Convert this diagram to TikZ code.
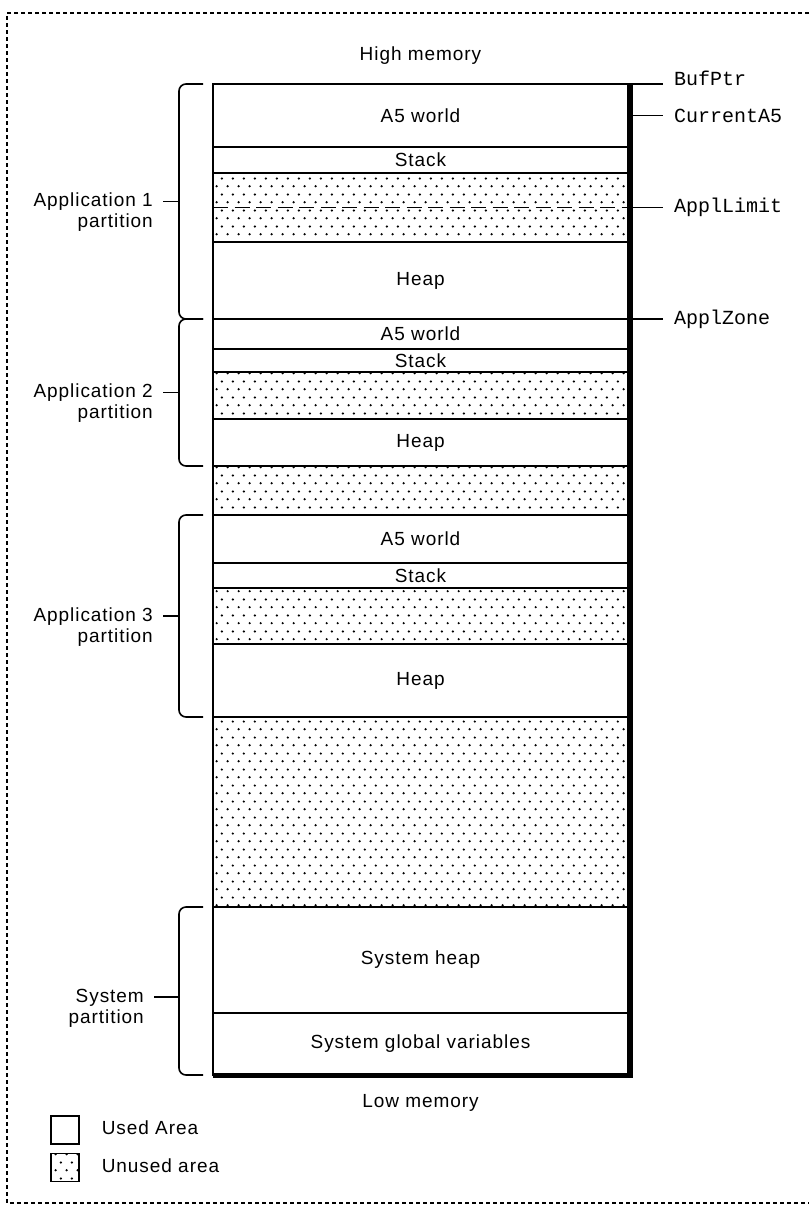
\documentclass[tikz,border=0pt]{standalone}
\usepackage{fontspec}
\setmainfont{Liberation Sans}[LetterSpace=5]
\setmonofont{Liberation Mono}
\usepackage{tikz}
\usetikzlibrary{positioning,patterns,calc}
% staggered dot grid for unused memory
\pgfdeclarepatternformonly{memdots}{\pgfpointorigin}{\pgfpoint{10.7pt}{15.6pt}}{\pgfpoint{10.7pt}{15.6pt}}{%
  \pgfpathcircle{\pgfpoint{2.7pt}{3.9pt}}{1.25pt}%
  \pgfpathcircle{\pgfpoint{8.05pt}{11.7pt}}{1.25pt}%
  \pgfusepath{fill}}

\begin{document}
\begin{tikzpicture}[x=1pt,y=-1pt,font=\fontsize{19}{23}\selectfont,
  seg/.style={draw,line width=1.6pt,minimum width=415pt,inner sep=0pt,outer sep=0pt,anchor=north},
  free/.style={seg,pattern=memdots},
  brc/.style={line width=1.6pt,rounded corners=7pt},
  tick/.style={line width=1.6pt},
  limitline/.style={line width=1.8pt,dash pattern=on 15pt off 6.5pt},
  plabel/.style={text height=14pt,text depth=4pt,inner xsep=10pt,inner ysep=1.5pt},
  reglabel/.style={font=\ttfamily\fontsize{20}{24}\selectfont,inner xsep=11pt},
  keybox/.style={draw,line width=1.6pt,minimum size=28pt,inner sep=0pt},
  frame/.style={line width=1.5pt,dash pattern=on 4pt off 3pt}]
  \useasboundingbox (0,0) rectangle (809,1205);
  \draw[frame] (809,13) -- (7,13) -- (7,1203) -- (809,1203);
  % memory map, top to bottom
  \node[seg,minimum height=63pt] (a5one) at (420.5,84) {A5 world};
  \node[seg,minimum height=26pt,below=0pt of a5one] (stackone) {Stack};
  \node[free,minimum height=69pt,below=0pt of stackone] (freeone) {};
  \node[seg,minimum height=77pt,below=0pt of freeone] (heapone) {Heap};
  \node[seg,minimum height=30pt,below=0pt of heapone] (a5two) {A5 world};
  \node[seg,minimum height=23pt,below=0pt of a5two] (stacktwo) {Stack};
  \node[free,minimum height=47pt,below=0pt of stacktwo] (freetwo) {};
  \node[seg,minimum height=47pt,below=0pt of freetwo] (heaptwo) {Heap};
  \node[free,minimum height=49pt,below=0pt of heaptwo] (gapone) {};
  \node[seg,minimum height=48pt,below=0pt of gapone] (a5three) {A5 world};
  \node[seg,minimum height=25pt,below=0pt of a5three] (stackthree) {Stack};
  \node[free,minimum height=56pt,below=0pt of stackthree] (freethree) {};
  \node[seg,minimum height=73pt,below=0pt of freethree] (heapthree) {Heap};
  \node[free,minimum height=190pt,below=0pt of heapthree] (gaptwo) {};
  \node[seg,minimum height=106pt,below=0pt of gaptwo] (sysheap) {System heap};
  \node[seg,minimum height=62pt,below=0pt of sysheap] (sysglobals) {System global variables};
  \draw[limitline] (freeone.west) -- (freeone.east);
  \draw[line width=5pt] ([xshift=2pt]a5one.north east) -- ([xshift=2pt]sysglobals.south east) -- (sysglobals.south west);
  \node[plabel,above=18pt of a5one] (highmem) {High memory};
  \node[plabel,below=17pt of sysglobals] (lowmem) {Low memory};
  % low-memory globals on the right
  \foreach \anc/\nm/\txt/\sh in {a5one.north east/bufptr/BufPtr/6,a5one.east/curafive/CurrentA5/0,
      freeone.east/appllimit/ApplLimit/0,heapone.south east/applzone/ApplZone/0} {
    \node[reglabel,right=35pt of \anc,yshift=\sh pt] (\nm) {\txt};
    \draw[tick] (\anc) -- (\anc -| \nm.west);
  }
  % partition braces
  \coordinate (bone) at ($(a5one.north west)!0.5!(heapone.south west)+(-34,0)$);
  \coordinate (btwo) at ($(a5two.north west)!0.5!(heaptwo.south west)+(-34,0)$);
  \coordinate (bthree) at ($(a5three.north west)!0.5!(heapthree.south west)+(-34,0)$);
  \coordinate (bsys) at ($(sysheap.north west)!0.5!(sysglobals.south west)+(-34,6)$);
  \draw[brc] ([xshift=-10pt]a5one.north west) -| (bone) |- ([xshift=-10pt]heapone.south west);
  \draw[brc] ([xshift=-10pt]a5two.north west) -| (btwo) |- ([xshift=-10pt]heaptwo.south west);
  \draw[brc] ([xshift=-10pt]a5three.north west) -| (bthree) |- ([xshift=-10pt]heapthree.south west);
  \draw[brc] ([xshift=-10pt]sysheap.north west) -| (bsys) |- ([xshift=-10pt]sysglobals.south west);
  \node[plabel,left=16pt of bone] (appone) {Application 1};
  \node[plabel,anchor=north east] (apponeb) at (appone.south east) {partition};
  \node[plabel,left=16pt of btwo] (apptwo) {Application 2};
  \node[plabel,anchor=north east] (apptwob) at (apptwo.south east) {partition};
  \node[plabel,left=16pt of bthree] (appthree) {Application 3};
  \node[plabel,anchor=north east] (appthreeb) at (appthree.south east) {partition};
  \node[plabel,left=25pt of bsys] (sysp) {System};
  \node[plabel,anchor=north east] (syspb) at (sysp.south east) {partition};
  \foreach \x/\y in {bone/appone,btwo/apptwo,bthree/appthree,bsys/sysp} \draw[tick] (\x) -- (\y.east);
  % key
  \node[keybox,anchor=north west] (usedkey) at (50,1115) {};
  \node[keybox,pattern=memdots,below=8pt of usedkey] (unusedkey) {};
  \node[plabel,right=12pt of usedkey] (usedtext) {Used Area};
  \node[plabel,right=12pt of unusedkey] (unusedtext) {Unused area};
\end{tikzpicture}
\end{document}
